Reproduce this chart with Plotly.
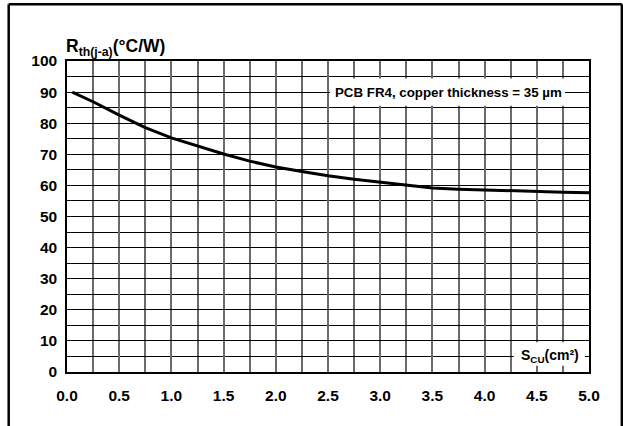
import plotly.graph_objects as go

# Data
s_cu = [0.05, 0.25, 0.5, 0.75, 1.0, 1.25, 1.5, 1.75, 2.0, 2.25, 2.5,
        2.75, 3.0, 3.25, 3.5, 3.75, 4.0, 4.25, 4.5, 4.75, 5.0]
rth = [90.0, 86.9, 82.6, 78.6, 75.3, 72.7, 70.1, 67.8, 65.9, 64.5, 63.1,
       62.0, 61.1, 60.1, 59.2, 58.8, 58.5, 58.3, 58.0, 57.8, 57.6]

x_ticks = [0.0, 0.5, 1.0, 1.5, 2.0, 2.5, 3.0, 3.5, 4.0, 4.5, 5.0]
x_tick_labels = ["0.0", "0.5", "1.0", "1.5", "2.0", "2.5", "3.0", "3.5", "4.0", "4.5", "5.0"]
y_ticks = [0, 10, 20, 30, 40, 50, 60, 70, 80, 90, 100]

FONT = "Liberation Sans"

fig = go.Figure()
fig.add_trace(go.Scatter(x=s_cu, y=rth, mode="lines",
                         line=dict(color="black", width=3), hoverinfo="skip",
                         showlegend=False))

fig.update_layout(
    width=623, height=426,
    margin=dict(l=67, r=34, t=61, b=54),
    paper_bgcolor="white", plot_bgcolor="white",
    showlegend=False,
    xaxis=dict(range=[0, 5], tickvals=x_ticks, ticktext=x_tick_labels,
               showgrid=True, gridcolor="#6a6a6a", gridwidth=1.5,
               minor=dict(dtick=0.25, showgrid=True, gridcolor="#6a6a6a", gridwidth=1.5),
               showline=True, linecolor="black", linewidth=1.5, mirror=True,
               zeroline=False, ticks="", ticklabelstandoff=9,
               tickfont=dict(family=FONT, size=15.5, color="black", weight="bold")),
    yaxis=dict(range=[0, 100], tickvals=y_ticks,
               showgrid=True, gridcolor="black", gridwidth=1,
               minor=dict(dtick=5, showgrid=True, gridcolor="black", gridwidth=1),
               showline=True, linecolor="black", linewidth=1.5, mirror=True,
               zeroline=False, ticks="", ticklabelstandoff=5,
               tickfont=dict(family=FONT, size=15.5, color="black", weight="bold")),
)

# white boxes behind the in-plot labels (above the grid, below the curve)
fig.add_shape(type="rect", xref="x", yref="y", x0=2.52, x1=4.77, y0=85.6, y1=94.4,
              fillcolor="white", line=dict(width=0), layer="between")
fig.add_shape(type="rect", xref="x", yref="y", x0=4.28, x1=4.96, y0=2.0, y1=9.6,
              fillcolor="white", line=dict(width=0), layer="between")

fig.add_annotation(x=3.655, y=90, xref="x", yref="y", showarrow=False,
                   text="<b>PCB FR4, copper thickness = 35 µm</b>",
                   font=dict(family=FONT, size=13.3, color="black"))
fig.add_annotation(x=4.63, y=5, xref="x", yref="y", showarrow=False,
                   text="<b>S<sub>CU</sub>(cm²)</b>",
                   font=dict(family=FONT, size=14, color="black"))
fig.add_annotation(x=-0.006, y=1, xref="paper", yref="paper", showarrow=False,
                   xanchor="left", yanchor="bottom", yshift=0,
                   text="<b>R<sub>th(j-a)</sub>(°C/W)</b>",
                   font=dict(family=FONT, size=17.5, color="black"))

# outer frame (left, top, right)
for x0, y0, x1, y1 in [(-0.1117, -0.3, -0.1117, 1.1823),
                       (-0.1117, 1.1823, 1.0629, 1.1823),
                       (1.0629, 1.1823, 1.0629, -0.3)]:
    fig.add_shape(type="line", xref="paper", yref="paper", x0=x0, y0=y0, x1=x1, y1=y1,
                  line=dict(color="black", width=2.5))

fig.write_html("out.html", config={"displayModeBar": False},
               post_script="document.body.style.margin='0';")
